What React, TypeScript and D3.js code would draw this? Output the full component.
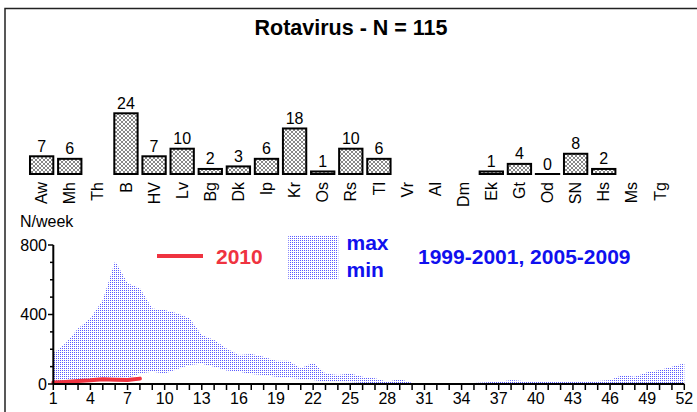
import React from "react";
import * as d3 from "d3";

const title = "Rotavirus - N = 115";
const labs = ["Aw","Mh","Th","B","HV","Lv","Bg","Dk","Ip","Kr","Os","Rs","Tl","Vr","Al","Dm","Ek","Gt","Od","SN","Hs","Ms","Tg"];
const labCounts: (number | null)[] = [7,6,null,24,7,10,2,3,6,18,1,10,6,null,null,null,1,4,0,8,2,null,null];

const maxVals = [177,234,320,378,483,708,580,551,435,426,407,378,282,253,205,167,172,157,134,134,90,123,61,52,61,42,33,13,29,6,5,5,5,5,6,10,13,23,17,17,17,13,11,13,17,23,52,42,67,80,100,119];
const minVals = [5,10,15,18,25,28,33,61,71,61,85,109,116,100,77,71,57,52,42,36,29,23,13,11,10,6,5,3,3,1,0,0,0,0,0,0,1,1,1,1,1,1,1,1,1,1,2,2,2,2,3,3];
const cases2010 = [8,12,17,21,27,25,23,31];
const xTickLabels = [1,4,7,10,13,16,19,22,25,28,31,34,37,40,43,46,49,52];
const yTickLabels = [0,400,800];

const FONT = "'Liberation Sans', Arial, sans-serif";
const RED = "#ef3340";
const BLUE = "#1010ee";

export default function App() {
  const weeks = maxVals.map((_, i) => i + 1);
  const bx = d3.scaleBand<string>().domain(labs).range([27.6, 674]).paddingInner(0.17).paddingOuter(0.085);
  const by = d3.scaleLinear().domain([0, 24]).range([174, 113.3]);

  const x = d3.scaleLinear().domain([1, 52]).range([53.3, 684.3]);
  const y = d3.scaleLinear().domain([0, 800]).range([384, 245]);

  const area = d3.area<number>()
    .x((d) => x(d))
    .y0((d) => y(minVals[d - 1]))
    .y1((d) => y(maxVals[d - 1]));
  const line = d3.line<number>().x((_, i) => x(i + 1)).y((d) => y(d));

  const minor = d3.range(0, 801, 100);

  return (
    <svg width={697} height={412} style={{ position: "absolute", left: 0, top: 0, background: "#fff" }} fontFamily={FONT}>
      <defs>
        <pattern id="hatch" width={4} height={4} patternUnits="userSpaceOnUse">
          <rect width={4} height={4} fill="#fff" />
          <path d="M0,0L4,4M4,0L0,4" stroke="#555" strokeWidth={0.7} />
        </pattern>
        <pattern id="dots" width={2} height={2} patternUnits="userSpaceOnUse">
          <rect width={2} height={2} fill="#fff" />
          <rect width={1} height={1} fill="#5a5aff" />
        </pattern>
      </defs>
      <rect x={0} y={0} width={697} height={412} fill="#fff" />
      <rect x={5} y={8.5} width={720} height={440} fill="none" stroke="#222" strokeWidth={1.5} />
      <text x={351} y={35} textAnchor="middle" fontSize={21.5} fontWeight="bold">{title}</text>

      {labs.map((l, i) => {
        const v = labCounts[i];
        const x0 = bx(l) as number;
        const cx = x0 + bx.bandwidth() / 2;
        return (
          <g key={l}>
            {v !== null && (
              <>
                {v > 0 ? (
                  <rect x={x0} y={by(v)} width={bx.bandwidth()} height={by(0) - by(v)} fill="url(#hatch)" stroke="#000" strokeWidth={2} />
                ) : (
                  <line x1={x0 - 1} x2={x0 + bx.bandwidth() + 1} y1={by(0)} y2={by(0)} stroke="#000" strokeWidth={2} />
                )}
                <text x={cx} y={by(v) - 4.5} textAnchor="middle" fontSize={16}>{v}</text>
              </>
            )}
            <text transform={`translate(${cx},182) rotate(-90)`} textAnchor="end" dy="0.35em" fontSize={16}>{l}</text>
          </g>
        );
      })}

      <path d={area(weeks) || ""} fill="url(#dots)" />
      <path d={line(cases2010) || ""} fill="none" stroke={RED} strokeWidth={4} strokeLinecap="round" />

      <line x1={53.3} x2={53.3} y1={245} y2={384} stroke="#000" strokeWidth={2} />
      <line x1={53.3} x2={684.3} y1={384} y2={384} stroke="#000" strokeWidth={2} />
      {minor.map((v) => (
        <line key={v} x1={v % 400 === 0 ? 48 : 50} x2={53.3} y1={y(v)} y2={y(v)} stroke="#000" strokeWidth={1.5} />
      ))}
      {yTickLabels.map((v) => (
        <text key={v} x={47} y={y(v)} dy="0.36em" textAnchor="end" fontSize={16}>{v}</text>
      ))}
      {weeks.map((w) => (
        <line key={w} x1={x(w)} x2={x(w)} y1={384} y2={390} stroke="#000" strokeWidth={1.5} />
      ))}
      {xTickLabels.map((w) => (
        <text key={w} x={x(w)} y={404} textAnchor="middle" fontSize={16}>{w}</text>
      ))}
      <text x={20} y={227} fontSize={16}>N/week</text>

      <line x1={157} x2={203} y1={256} y2={256} stroke={RED} strokeWidth={4} />
      <text x={216} y={264} fontSize={21} fontWeight="bold" fill={RED}>2010</text>
      <rect x={288.3} y={235} width={50} height={44.3} fill="url(#dots)" />
      <text x={346.5} y={250} fontSize={21} fontWeight="bold" fill={BLUE}>max</text>
      <text x={346.5} y={277} fontSize={21} fontWeight="bold" fill={BLUE}>min</text>
      <text x={418} y={264} fontSize={21} fontWeight="bold" fill={BLUE}>1999-2001, 2005-2009</text>
    </svg>
  );
}
